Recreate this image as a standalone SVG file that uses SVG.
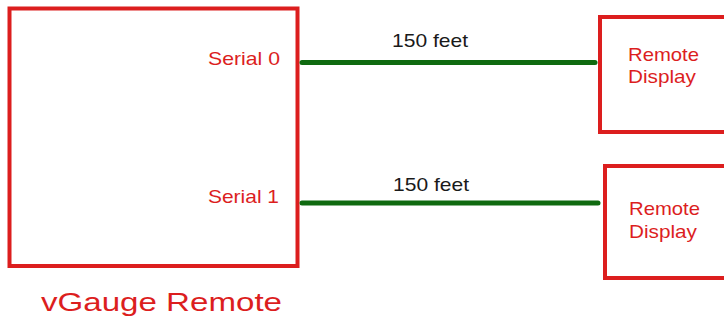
<svg xmlns="http://www.w3.org/2000/svg" width="724" height="322" viewBox="0 0 724 322">
<style>
.box{fill:none;stroke:#dc1e1e;stroke-width:4}
.lbl{font-family:"Liberation Sans",Arial,sans-serif;fill:#dc1e1e;font-size:19px}
.dist{font-family:"Liberation Sans",Arial,sans-serif;fill:#1a1a1a;font-size:19px}
.wire{stroke:#0f6a10;stroke-width:5;stroke-linecap:round;fill:none}
</style>
<rect width="724" height="322" fill="#ffffff"/>
<g id="vgauge">
<rect class="box" x="9.5" y="8.5" width="288" height="257.5"/>
<text class="lbl" x="208" y="65" textLength="72" lengthAdjust="spacingAndGlyphs">Serial 0</text>
<text class="lbl" x="208" y="203" textLength="71" lengthAdjust="spacingAndGlyphs">Serial 1</text>
<text class="lbl" x="41" y="310.5" style="font-size:26px" textLength="241" lengthAdjust="spacingAndGlyphs">vGauge Remote</text>
</g>
<g id="display1">
<rect class="box" x="600" y="17" width="130" height="115"/>
<text class="lbl" x="628" y="61" textLength="71" lengthAdjust="spacingAndGlyphs">Remote</text>
<text class="lbl" x="628" y="83" textLength="68" lengthAdjust="spacingAndGlyphs">Display</text>
</g>
<g id="display2">
<rect class="box" x="605" y="166" width="130" height="112"/>
<text class="lbl" x="629" y="215" textLength="71" lengthAdjust="spacingAndGlyphs">Remote</text>
<text class="lbl" x="629" y="238" textLength="68" lengthAdjust="spacingAndGlyphs">Display</text>
</g>
<g id="connectors">
<line class="wire" x1="302" y1="62.5" x2="595" y2="62.5"/>
<text class="dist" x="392" y="47" textLength="76" lengthAdjust="spacingAndGlyphs">150 feet</text>
<line class="wire" x1="302" y1="203" x2="598" y2="203"/>
<text class="dist" x="393" y="191" textLength="76" lengthAdjust="spacingAndGlyphs">150 feet</text>
</g>
</svg>
